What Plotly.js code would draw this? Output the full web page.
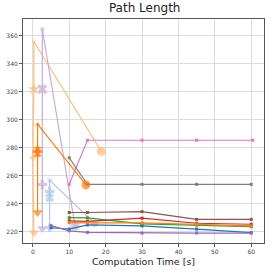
<!DOCTYPE html>
<html><head><meta charset="utf-8">
<script src="https://cdn.plot.ly/plotly-3.0.1.min.js"></script>
<style>html,body{margin:0;padding:0;background:#fff}#c{width:273px;height:273px}</style>
</head><body><div id="c"></div>
<script>
// Anytime planners (time budgets)
const blueX = [5, 10, 15, 30, 45, 60];
const blueY = [223, 222, 225, 224.3, 222, 219.5];
const purpleX = [5, 10, 15, 30, 45, 60];
const purpleY = [224.5, 220.8, 219.7, 219.2, 219.2, 219.2];
const budgetX = [10, 15, 30, 45, 60];
const greenY = [230.2, 230, 225.8, 224.8, 223.8];
const redY = [227.9, 227.6, 229.8, 226.2, 225.5];
const orangeY = [226.7, 226.5, 226.5, 225.5, 224.3];
const brownY = [233.9, 233.9, 234.5, 229, 229];
const pinkX = [10, 15, 30, 45, 60.4];
const pinkY = [254, 285.5, 285.5, 285.5, 285.5];
const grayY = [273, 254, 254, 254, 254];
// Fast planners
const fOrangeX = [14.6, 1.3, 1.3, 1.3, 1.3, 1.3];
const fOrangeY = [253.6, 297, 279.5, 277.5, 275.8, 233.8];
const fLOrangeX = [18.8, 0.3, 0.3, 0.0, 0.3];
const fLOrangeY = [277.5, 356, 322, 273, 219.5];
const fLPurpleX = [11.6, 2.6, 2.6, 2.6, 2.6];
const fLPurpleY = [224.2, 364.8, 322, 253.8, 222.5];
const fLBlueX = [17, 4.6, 4.6, 4.6, 4.6];
const fLBlueY = [226, 257, 249, 244.5, 223];

const xTicks = [0, 10, 20, 30, 40, 50, 60];
const yTicks = [220, 240, 260, 280, 300, 320, 340, 360];

function anytime(x, y, color) {
  return {x: x, y: y, type: 'scatter', mode: 'lines+markers',
    line: {color: color, width: 1.2},
    marker: {symbol: 'square', size: 3, color: color}, hoverinfo: 'none'};
}
function fast(x, y, color, syms, sizes) {
  return {x: x, y: y, type: 'scatter', mode: 'lines+markers',
    line: {color: color, width: 1.2},
    marker: {symbol: syms, size: sizes, color: color, line: {width: 0}}, hoverinfo: 'none'};
}
const traces = [
  fast(fLOrangeX, fLOrangeY, '#ffbb78', ['circle', 'star', 'star', 'triangle-left', 'triangle-down'], [9, 4, 9, 7, 9]),
  fast(fLPurpleX, fLPurpleY, '#c5b0d5', ['circle', 'star', 'x', 'cross', 'triangle-down'], [9, 5, 9, 8, 9]),
  fast(fLBlueX, fLBlueY, '#aec7e8', ['circle', 'star', 'cross', 'x', 'cross'], [7, 5, 8, 8, 7]),
  anytime(blueX, blueY, '#1f77b4'),
  anytime(purpleX, purpleY, '#9467bd'),
  anytime(budgetX, greenY, '#2ca02c'),
  anytime(budgetX, brownY, '#8c564b'),
  anytime(budgetX, redY, '#d62728'),
  anytime(budgetX, orangeY, '#ff7f0e'),
  anytime(pinkX, pinkY, '#e377c2'),
  anytime(budgetX, grayY, '#7f7f7f'),
  fast(fOrangeX, fOrangeY, '#ff7f0e', ['circle', 'triangle-up', 'star', 'cross', 'x', 'triangle-down'], [9, 5, 8, 8, 7, 9])
];
const axisCommon = {
  showline: true, mirror: true, linecolor: '#555', linewidth: 1,
  showgrid: true, gridcolor: '#dcdcdc', gridwidth: 1,
  ticks: 'outside', ticklen: 3, tickcolor: '#555', tickwidth: 1,
  tickfont: {family: 'DejaVu Sans', size: 6, color: '#444'},
  zeroline: false
};
const layout = {
  width: 273, height: 273,
  margin: {l: 23, r: 9, t: 19, b: 30},
  paper_bgcolor: '#fff', plot_bgcolor: '#fff',
  showlegend: false,
  title: {text: 'Path Length', font: {family: 'DejaVu Sans', size: 12, color: '#222'}, x: 0.53, xanchor: 'center', y: 0.985, yanchor: 'top'},
  xaxis: Object.assign({}, axisCommon, {range: [-2.7, 63.5], tickvals: xTicks, ticktext: xTicks.map(String),
    title: {text: 'Computation Time [s]', font: {family: 'DejaVu Sans', size: 9.5, color: '#222'}, standoff: 4}}),
  yaxis: Object.assign({}, axisCommon, {range: [212.1, 372.1], tickvals: yTicks, ticktext: yTicks.map(String)})
};
Plotly.newPlot('c', traces, layout, {staticPlot: true, displayModeBar: false});
</script></body></html>
